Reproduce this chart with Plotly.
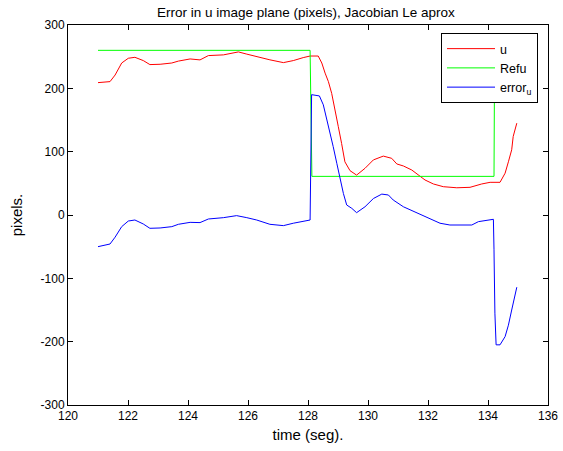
import plotly.graph_objects as go

# time samples (seconds) and values (pixels)
t_u = [121.0, 121.4, 121.57, 121.79, 122.01, 122.23, 122.51, 122.73, 123.07, 123.46,
       123.68, 124.07, 124.4, 124.68, 125.18, 125.68, 125.96, 126.29, 126.73, 127.18,
       127.51, 127.84, 128.07, 128.34, 128.46, 128.57, 128.68, 128.79, 128.9, 129.01,
       129.12, 129.23, 129.4, 129.62, 129.9, 130.18, 130.51, 130.79, 130.96, 131.18,
       131.46, 131.68, 131.9, 132.18, 132.51, 132.96, 133.4, 133.79, 134.07, 134.4,
       134.57, 134.68, 134.79, 134.84, 134.96]
u = [209, 210.6, 221, 240, 247.5, 249, 243.8, 237.5, 238, 240,
     243, 246.4, 244.9, 251.7, 252.8, 257.5, 254, 250, 245, 240.6,
     243.8, 248.5, 251, 251, 240, 224, 210.6, 192, 163, 139.5,
     113, 84, 70, 63, 73.7, 87, 93, 89.5, 80.6, 77.4,
     71, 63, 55.3, 49, 44.7, 43, 43.7, 49, 51.6, 51.6,
     66, 84, 103, 124, 145]

t_ref = [121.0, 128.07, 128.13, 134.2, 134.22, 135.0]
ref_u = [260, 260, 61, 61, 260, 260]

t_err = [121.0, 121.4, 121.57, 121.79, 122.01, 122.23, 122.51, 122.73, 123.07, 123.46,
         123.68, 124.07, 124.4, 124.68, 125.18, 125.62, 125.96, 126.29, 126.73, 127.18,
         127.51, 127.84, 128.07, 128.12, 128.16, 128.38, 128.51, 128.62, 128.73, 128.84,
         128.96, 129.07, 129.18, 129.29, 129.46, 129.62, 129.9, 130.18, 130.46, 130.68,
         130.84, 131.18, 131.46, 131.79, 132.07, 132.4, 132.73, 133.46, 133.68, 133.96,
         134.18, 134.2, 134.23, 134.27, 134.4, 134.57, 134.68, 134.79, 134.88, 134.96]
err_u = [-50, -45.8, -35, -18.4, -9.5, -7.9, -14.2, -21, -20.5, -18.4,
         -14.7, -11.6, -12, -6.3, -4.2, -1, -4.2, -7.9, -14.7, -16.8,
         -13, -10.5, -7.9, 190, 189.6, 188, 174, 152.7, 134, 108,
         81.6, 55, 34, 15.8, 10.5, 3.7, 13, 26, 33, 31.6,
         23.7, 13, 6.8, 0, -6.8, -13, -15.8, -15.8, -10.5, -7.9,
         -6.8, -55, -155, -205, -205, -192, -174, -150, -129, -114]

x_ticks = [120, 122, 124, 126, 128, 130, 132, 134, 136]
y_ticks = [-300, -200, -100, 0, 100, 200, 300]

FONT = "Liberation Sans, Arial, Helvetica, sans-serif"

fig = go.Figure()
fig.add_trace(go.Scatter(x=t_u, y=u, mode="lines", name="u",
                         line=dict(color="#ff0000", width=1)))
fig.add_trace(go.Scatter(x=t_ref, y=ref_u, mode="lines", name="Refu",
                         line=dict(color="#00ff00", width=1)))
fig.add_trace(go.Scatter(x=t_err, y=err_u, mode="lines", name="error<sub>u</sub>",
                         line=dict(color="#0000ff", width=1)))

axis_common = dict(showgrid=False, zeroline=False, showline=True, linecolor="black",
                   linewidth=1, mirror="ticks", ticks="inside", ticklen=5, automargin=False,
                   tickcolor="black", tickfont=dict(family=FONT, size=12, color="black"))

fig.update_layout(
    width=563, height=451,
    paper_bgcolor="white", plot_bgcolor="white",
    margin=dict(l=68, r=15, t=25, b=46),
    font=dict(family=FONT, color="black"),
    title=dict(text="Error in u image plane (pixels), Jacobian Le aprox",
               x=(156.7 + 455) / 2 / 563, xanchor="center", y=1 - 12 / 451, yanchor="middle",
               font=dict(family=FONT, size=13.5, color="black")),
    xaxis=dict(range=[120, 136], tickvals=x_ticks, ticktext=[str(v) for v in x_ticks],
               title=dict(text="time (seg).", font=dict(family=FONT, size=15), standoff=7),
               **axis_common),
    yaxis=dict(range=[-300, 300], tickvals=y_ticks, ticktext=[str(v) for v in y_ticks],
               title=dict(text="pixels.", font=dict(family=FONT, size=15), standoff=14),
               **axis_common),
    legend=dict(x=(441 - 68) / 480, xanchor="left", y=(405 - 33) / 380, yanchor="top",
                bgcolor="white", bordercolor="black", borderwidth=1,
                font=dict(family=FONT, size=12.5, color="black"),
                tracegroupgap=0, itemwidth=48),
    showlegend=True,
)

fig.write_html("out.html", config={"displayModeBar": False},
               post_script="document.body.style.margin='0px';")
